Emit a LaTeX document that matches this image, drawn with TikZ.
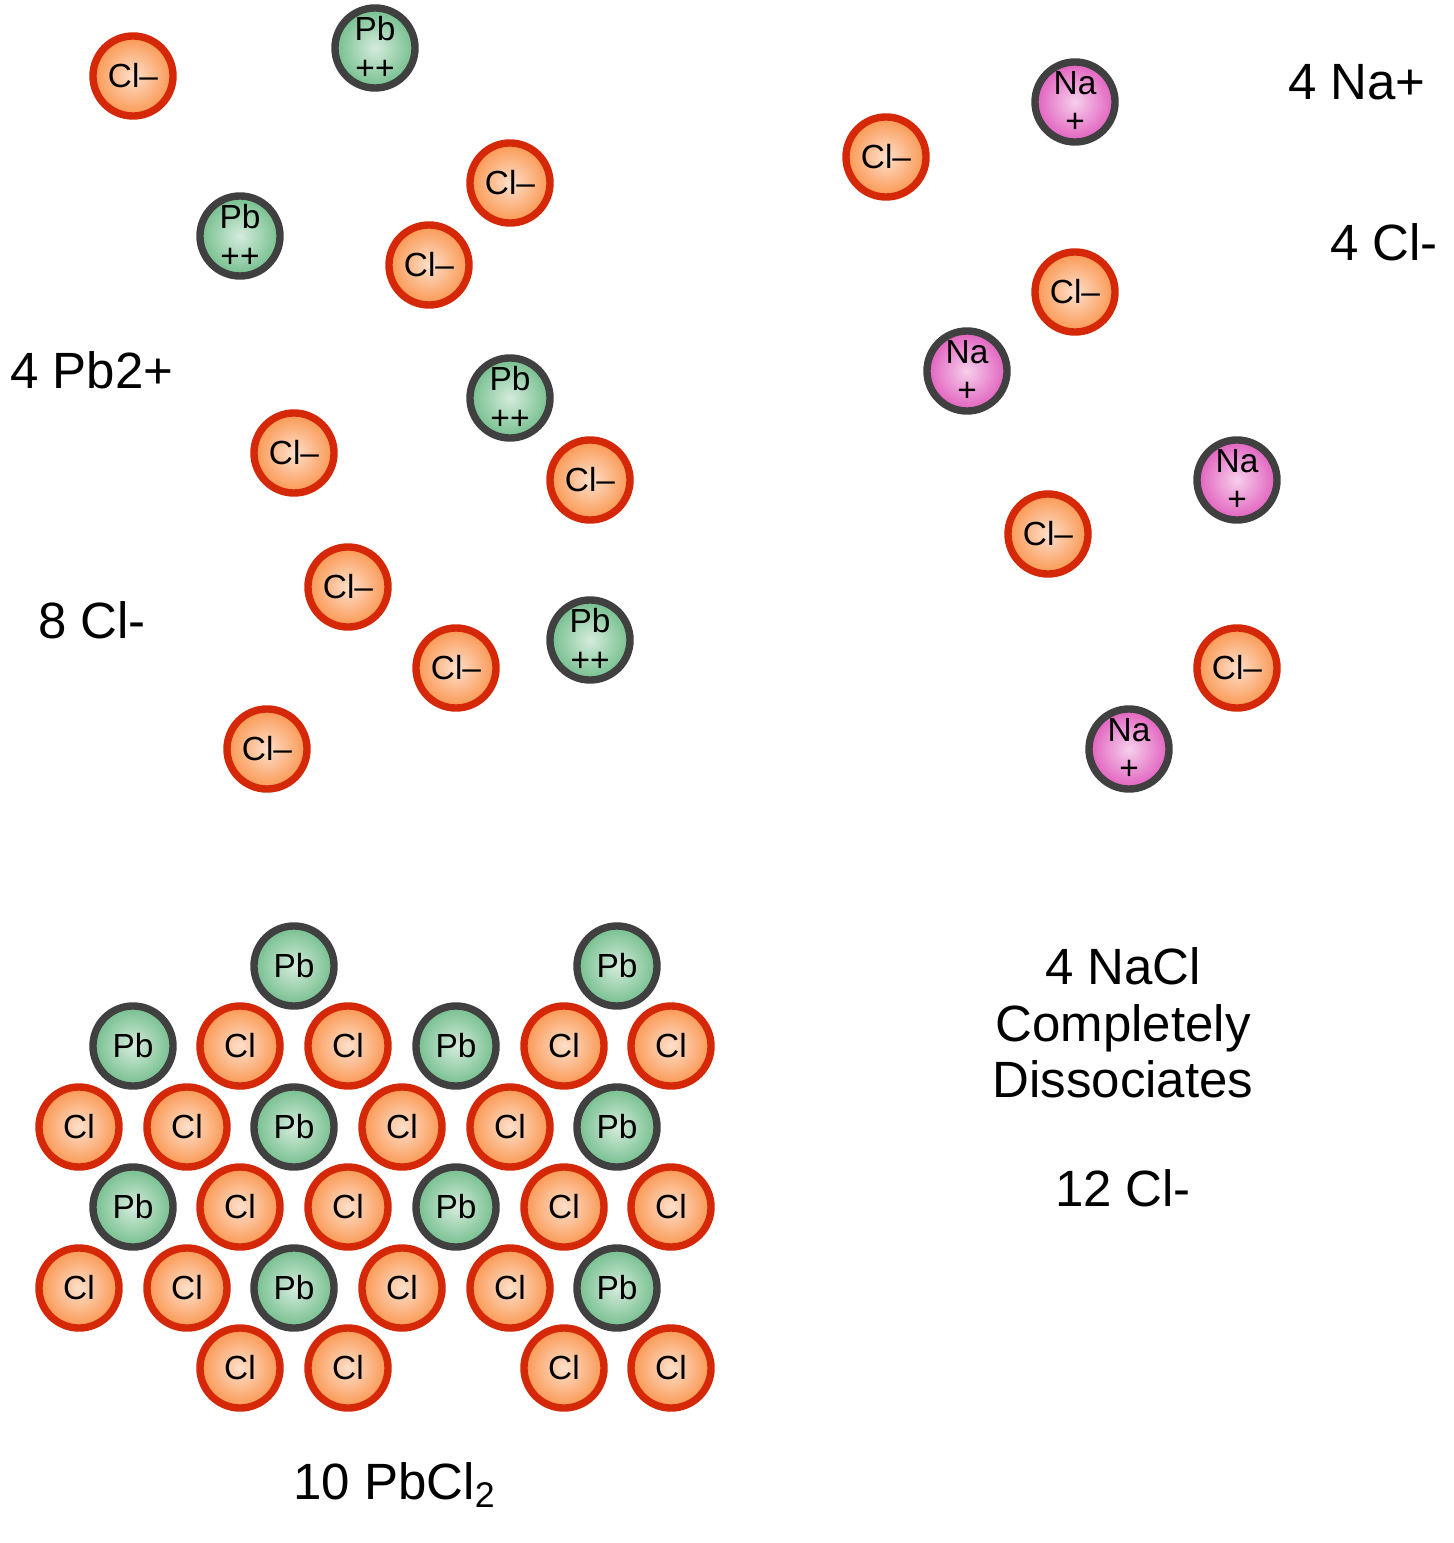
\documentclass[tikz,border=0pt]{standalone}
\usepackage{fontspec}
\setmainfont{Liberation Sans}
\definecolor{clfill}{RGB}{250,150,80}
\definecolor{clring}{RGB}{212,40,8}
\definecolor{pbfill}{RGB}{115,190,140}
\definecolor{naFill}{RGB}{225,95,190}
\definecolor{ring}{RGB}{64,64,64}
\tikzset{
  ion/.style={circle,minimum size=0.8cm,inner sep=0pt,line width=2.1pt,font=\fontsize{9.5}{10}\selectfont},
  cl/.style={ion,draw=clring,inner color=clfill!30,outer color=clfill},
  pb/.style={ion,draw=ring,inner color=pbfill!30,outer color=pbfill},
  na/.style={ion,draw=ring,inner color=naFill!30,outer color=naFill},
  lbl/.style={font=\fontsize{14.5}{16}\selectfont,align=center}
}
\begin{document}
\begin{tikzpicture}[x=0.01cm,y=-0.01cm]
\useasboundingbox (0,0) rectangle (1453,1543);
% free ions of lead chloride
\foreach \x/\y [count=\i] in {133/76,510/183,429/265,294/453,590/480,348/587,456/668,267/749}
  \node[cl] (cla\i) at (\x,\y) {Cl--};
\foreach \x/\y [count=\i] in {375/48,240/236,510/398,590/640}
  \node[pb,align=center] (pba\i) at (\x,\y) {Pb\\[1pt]++};
% sodium chloride
\foreach \x/\y [count=\i] in {886/157,1075/292,1048/534,1237/668}
  \node[cl] (clb\i) at (\x,\y) {Cl--};
\foreach \x/\y [count=\i] in {1075/102,967/371,1237/480,1129/749}
  \node[na,align=center] (na\i) at (\x,\y) {Na\\[1pt]+};
% lattice
\foreach \x/\y [count=\i] in {294/966,617/966,133/1046,456/1046,294/1127,617/1127,
    133/1207,456/1207,294/1288,617/1288}
  \node[pb] (pbc\i) at (\x,\y) {Pb};
\foreach \x/\y [count=\i] in {240/1046,348/1046,564/1046,671/1046,
    79/1127,187/1127,402/1127,510/1127,240/1207,348/1207,564/1207,671/1207,
    79/1288,187/1288,402/1288,510/1288,240/1368,348/1368,564/1368,671/1368}
  \node[cl] (clc\i) at (\x,\y) {Cl};
% labels
\node[lbl] (nplus) at (1357,82) {4 Na+};
\node[lbl] (clnacl) at (1384,242) {4 Cl-};
\node[lbl] (pbplus) at (92,370) {4 Pb2+};
\node[lbl] (clpb) at (92,620) {8 Cl-};
\node[lbl] (nacl) at (1123,1023) {4 NaCl\\Completely\\Dissociates};
\node[lbl] (cltot) at (1123,1188) {12 Cl-};
\node[lbl] (pbcl) at (395,1485) {10 PbCl\textsubscript{2}};
\end{tikzpicture}
\end{document}
